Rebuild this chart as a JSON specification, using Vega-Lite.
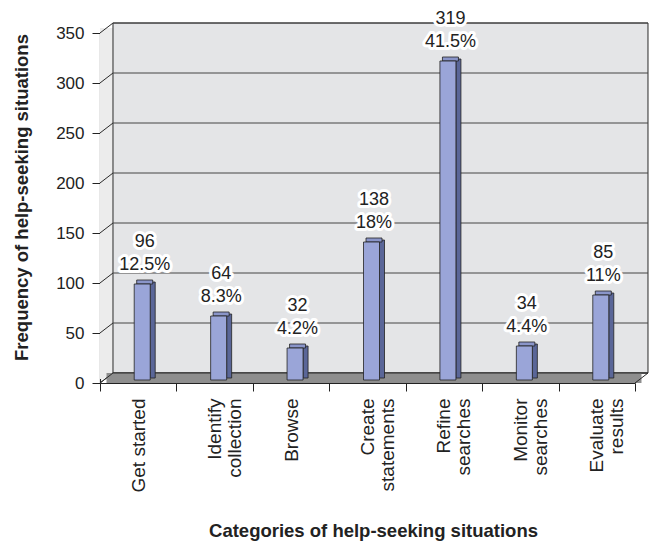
{
  "$schema": "https://vega.github.io/schema/vega-lite/v6.json",
  "width": 535,
  "height": 350,
  "autosize": {"type": "none"},
  "padding": {"left": 100, "top": 33, "right": 16, "bottom": 161},
  "background": "white",
  "config": {
    "font": "Liberation Sans, Arial, sans-serif",
    "view": {"stroke": null},
    "axis": {"domainColor": "#222", "tickColor": "#222", "labelColor": "#222", "titleColor": "#222", "grid": false}
  },
  "datasets": {
    "help": [
      {"category": "Get started", "count": 96, "share": 0.125},
      {"category": "Identify collection", "count": 64, "share": 0.083},
      {"category": "Browse", "count": 32, "share": 0.042},
      {"category": "Create statements", "count": 138, "share": 0.18},
      {"category": "Refine searches", "count": 319, "share": 0.415},
      {"category": "Monitor searches", "count": 34, "share": 0.044},
      {"category": "Evaluate results", "count": 85, "share": 0.11}
    ],
    "ticks": [
      {"t": 0}, {"t": 50}, {"t": 100}, {"t": 150}, {"t": 200}, {"t": 250}, {"t": 300}, {"t": 350}
    ]
  },
  "layer": [
    {
      "data": {"values": [{}]},
      "layer": [
        {
          "mark": {"type": "rect", "fill": "#ececec"},
          "encoding": {
            "x": {"datum": 0, "type": "quantitative", "scale": {"domain": [0, 7], "nice": false, "zero": false}, "axis": null},
            "x2": {"datum": 0.17},
            "y": {"datum": 4, "type": "quantitative"},
            "y2": {"datum": 355}
          }
        },
        {
          "mark": {"type": "rect", "fill": "#e4e5e7", "stroke": "#2a2a2a", "strokeWidth": 1},
          "encoding": {
            "x": {"datum": 0.17, "type": "quantitative", "scale": {"domain": [0, 7], "nice": false, "zero": false}, "axis": null},
            "x2": {"datum": 7.17},
            "y": {"datum": 10, "type": "quantitative"},
            "y2": {"datum": 360}
          }
        },
        {
          "data": {"name": "ticks"},
          "mark": {"type": "rule", "stroke": "#444", "strokeWidth": 1, "yOffset": -10, "y2Offset": -10},
          "encoding": {
            "x": {"datum": 0.17, "type": "quantitative", "scale": {"domain": [0, 7], "nice": false, "zero": false}, "axis": null},
            "x2": {"datum": 7.17},
            "y": {"field": "t", "type": "quantitative"},
            "y2": {"field": "t"}
          }
        },
        {
          "data": {"name": "ticks"},
          "mark": {"type": "rule", "stroke": "#2a2a2a", "strokeWidth": 1, "y2Offset": -10},
          "encoding": {
            "x": {"datum": 0, "type": "quantitative", "scale": {"domain": [0, 7], "nice": false, "zero": false}, "axis": null},
            "x2": {"datum": 0.17},
            "y": {"field": "t", "type": "quantitative"},
            "y2": {"field": "t"}
          }
        },
        {
          "mark": {"type": "rect", "fill": "#8e8e8e"},
          "encoding": {
            "x": {"datum": 0.085, "type": "quantitative", "scale": {"domain": [0, 7], "nice": false, "zero": false}, "axis": null},
            "x2": {"datum": 7.085},
            "y": {"datum": 0, "type": "quantitative"},
            "y2": {"datum": 10}
          }
        },
        {
          "mark": {"type": "rule", "stroke": "#2a2a2a", "strokeWidth": 1},
          "encoding": {
            "x": {"datum": 0.17, "type": "quantitative", "scale": {"domain": [0, 7], "nice": false, "zero": false}, "axis": null},
            "x2": {"datum": 7.17},
            "y": {"datum": 10, "type": "quantitative"},
            "y2": {"datum": 10}
          }
        },
        {
          "mark": {"type": "rule", "stroke": "#2a2a2a", "strokeWidth": 1},
          "encoding": {
            "x": {"datum": 0, "type": "quantitative", "scale": {"domain": [0, 7], "nice": false, "zero": false}, "axis": null},
            "x2": {"datum": 0.17},
            "y": {"datum": 0, "type": "quantitative"},
            "y2": {"datum": 10}
          }
        },
        {
          "mark": {"type": "rule", "stroke": "#2a2a2a", "strokeWidth": 1},
          "encoding": {
            "x": {"datum": 7, "type": "quantitative", "scale": {"domain": [0, 7], "nice": false, "zero": false}, "axis": null},
            "x2": {"datum": 7.17},
            "y": {"datum": 0, "type": "quantitative"},
            "y2": {"datum": 10}
          }
        }
      ]
    },
    {
      "data": {"name": "help"},
      "layer": [
        {
          "mark": {"type": "bar", "width": 5, "fill": "#5a6698", "stroke": "#222", "strokeWidth": 0.8, "xOffset": 14.5, "yOffset": -5, "y2Offset": -5},
          "encoding": {
            "x": {
              "field": "category", "type": "nominal", "sort": null,
              "scale": {"paddingInner": 0, "paddingOuter": 0},
              "axis": {
                "title": "Categories of help-seeking situations",
                "titleFontSize": 18.5, "titleFontWeight": "bold", "titlePadding": 30,
                "titleX": 273, "titleAnchor": "middle",
                "labelAngle": -90, "labelAlign": "right", "labelBaseline": "middle",
                "labelFontSize": 19, "labelPadding": 7, "labelLineHeight": 20,
                "labelExpr": "datum.label == 'Get started' ? datum.label : split(datum.label, ' ')",
                "tickBand": "extent", "tickSize": 8, "domainWidth": 1.2
              }
            },
            "y": {
              "field": "count", "type": "quantitative",
              "scale": {"domain": [0, 350], "nice": false},
              "axis": {
                "title": "Frequency of help-seeking situations",
                "titleFontSize": 18.5, "titleFontWeight": "bold", "titlePadding": 24,
                "titleY": 164, "titleAnchor": "middle",
                "values": [0, 50, 100, 150, 200, 250, 300, 350],
                "labelFontSize": 17, "labelPadding": 8, "tickSize": 8, "domainWidth": 1.2
              }
            },
            "y2": {"datum": 0}
          }
        },
        {
          "mark": {"type": "bar", "width": 16, "fill": "#8a95c9", "stroke": "#222", "strokeWidth": 0.8, "xOffset": 6.5, "yOffset": -7, "y2Offset": -3},
          "encoding": {
            "x": {"field": "category", "type": "nominal", "sort": null},
            "y": {"field": "count", "type": "quantitative"},
            "y2": {"field": "count"}
          }
        },
        {
          "mark": {"type": "bar", "width": 16, "fill": "#9aa5d8", "stroke": "#222", "strokeWidth": 0.8, "xOffset": 4, "yOffset": -3, "y2Offset": -3},
          "encoding": {
            "x": {"field": "category", "type": "nominal", "sort": null},
            "y": {"field": "count", "type": "quantitative"},
            "y2": {"datum": 0}
          }
        },
        {
          "mark": {"type": "text", "fontSize": 18, "baseline": "middle", "xOffset": 6.5, "yOffset": -45, "stroke": "white", "strokeWidth": 6, "strokeJoin": "round", "fill": "white"},
          "encoding": {
            "x": {"field": "category", "type": "nominal", "sort": null},
            "y": {"field": "count", "type": "quantitative"},
            "text": {"field": "count", "type": "quantitative"}
          }
        },
        {
          "mark": {"type": "text", "fontSize": 18, "baseline": "middle", "xOffset": 6.5, "yOffset": -22, "stroke": "white", "strokeWidth": 6, "strokeJoin": "round", "fill": "white"},
          "encoding": {
            "x": {"field": "category", "type": "nominal", "sort": null},
            "y": {"field": "count", "type": "quantitative"},
            "text": {"field": "share", "type": "quantitative", "format": ".1~%"}
          }
        },
        {
          "mark": {"type": "text", "fontSize": 18, "baseline": "middle", "xOffset": 6.5, "yOffset": -45, "fill": "#222"},
          "encoding": {
            "x": {"field": "category", "type": "nominal", "sort": null},
            "y": {"field": "count", "type": "quantitative"},
            "text": {"field": "count", "type": "quantitative"}
          }
        },
        {
          "mark": {"type": "text", "fontSize": 18, "baseline": "middle", "xOffset": 6.5, "yOffset": -22, "fill": "#222"},
          "encoding": {
            "x": {"field": "category", "type": "nominal", "sort": null},
            "y": {"field": "count", "type": "quantitative"},
            "text": {"field": "share", "type": "quantitative", "format": ".1~%"}
          }
        }
      ]
    }
  ],
  "resolve": {"scale": {"x": "independent"}}
}
